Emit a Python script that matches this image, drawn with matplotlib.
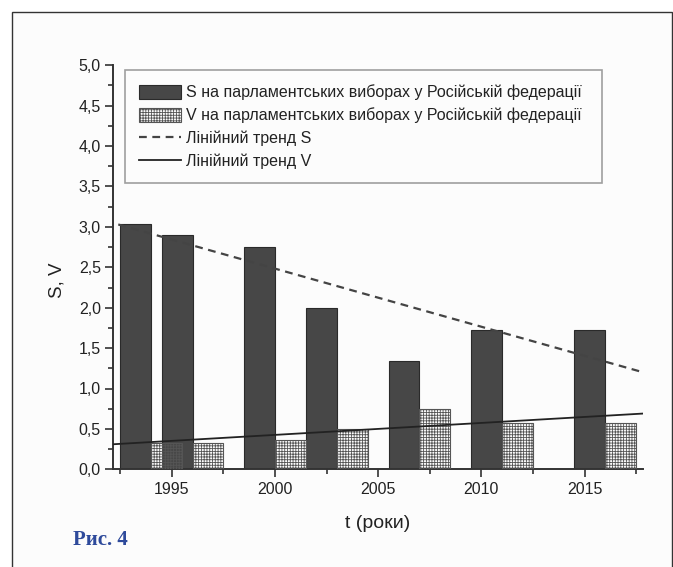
import matplotlib
matplotlib.use("Agg")
import matplotlib.pyplot as plt
from matplotlib.patches import Rectangle
from matplotlib.ticker import FuncFormatter, MultipleLocator

plt.rcParams['font.family'] = ['Liberation Sans', 'DejaVu Sans']
plt.rcParams['hatch.linewidth'] = 0.6

# -------------------Data------------------------------------------------
group_x = [1994, 1996, 2000, 2003, 2007, 2011, 2016]
s_values = [3.04, 2.90, 2.75, 2.00, 1.34, 1.72, 1.72]
v_values = [0.33, 0.33, 0.36, 0.50, 0.75, 0.57, 0.57]

trend_s_x = [1992.4, 2017.85]
trend_s_y = [3.03, 1.20]
trend_v_x = [1992.16, 2017.85]
trend_v_y = [0.31, 0.69]

x_ticks = [1995, 2000, 2005, 2010, 2015]
legend_labels = ['S на парламентських виборах у Російській федерації',
                 'V на парламентських виборах у Російській федерації',
                 'Лінійний тренд S',
                 'Лінійний тренд V']

bar_w = 1.5

fig = plt.figure(figsize=(6.73, 5.67), dpi=100, facecolor='white')

# page frame around the figure
fig.patches.append(Rectangle((12 / 673, -0.05), (671.5 - 12) / 673, 0.05 + (567 - 11.7) / 567,
                             transform=fig.transFigure, facecolor='#fcfcfc',
                             edgecolor='#333333', linewidth=1.0, zorder=-1))

ax = fig.add_axes([113.3 / 673, (567 - 469.3) / 567, 530 / 673, 404 / 567])
ax.set_facecolor('none')

# -------------------Bars--------------------------
bars_s = ax.bar(group_x, s_values, width=-bar_w, align='edge', color='#474747',
                edgecolor='#2a2a2a', linewidth=0.8, zorder=2)
bars_v = ax.bar(group_x, v_values, width=bar_w, align='edge', facecolor='none',
                edgecolor='#555555', hatch='++++++', linewidth=0.8, zorder=3)

# -------------------Trend lines--------------------------
line_s, = ax.plot(trend_s_x, trend_s_y, color='#444444', linewidth=1.6,
                  linestyle=(0, (3.5, 2.5)), zorder=4)
line_v, = ax.plot(trend_v_x, trend_v_y, color='#222222', linewidth=1.3, zorder=4)

# -------------------Axes--------------------------
ax.set_xlim(1992.16, 2017.85)
ax.set_ylim(0, 5.0)
ax.set_xticks(x_ticks)
ax.xaxis.set_minor_locator(MultipleLocator(2.5))
ax.yaxis.set_major_locator(MultipleLocator(0.5))
ax.yaxis.set_minor_locator(MultipleLocator(0.25))
ax.yaxis.set_major_formatter(FuncFormatter(lambda v, p: f'{v:.1f}'.replace('.', ',')))

for side in ['top', 'right']:
    ax.spines[side].set_visible(False)
for side in ['left', 'bottom']:
    ax.spines[side].set_color('#333333')
    ax.spines[side].set_linewidth(1.4)

ax.tick_params(which='major', direction='out', length=6, width=1.2,
               color='#333333', labelsize=11.5, labelcolor='#222222', pad=3)
ax.tick_params(which='minor', direction='out', length=3.5, width=1.2, color='#333333')

fig.text(378 / 673, (567 - 524) / 567, 't (роки)', ha='center', va='center',
         fontsize=14, color='#222222')
fig.text(57 / 673, (567 - 280) / 567, 'S, V', ha='center', va='center',
         rotation=90, fontsize=13.5, color='#222222')
fig.text(73 / 673, (567 - 540) / 567, 'Рис. 4', ha='left', va='center',
         fontsize=15, fontweight='bold', color='#2e4a9b',
         family=['Liberation Serif', 'DejaVu Serif'])

# -------------------Legend--------------------------
leg = ax.legend([bars_s, bars_v, line_s, line_v], legend_labels,
                loc='upper left', bbox_to_anchor=(0.022, 0.70, 0.9, 0.288),
                mode='expand', fontsize=11.5, frameon=True, fancybox=False,
                edgecolor='#888888', handlelength=2.6, handleheight=1.0,
                handletextpad=0.3, labelspacing=0.45, borderpad=0.9,
                borderaxespad=0)
leg.get_frame().set_linewidth(1.2)
leg.get_frame().set_facecolor('#fdfdfd')
for t in leg.get_texts():
    t.set_color('#222222')

plt.savefig('out.png', dpi=100, facecolor='white')
